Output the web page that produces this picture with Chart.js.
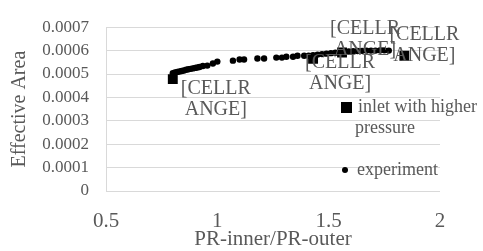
<!DOCTYPE html>
<html>
<head>
<meta charset="utf-8">
<script src="https://cdn.jsdelivr.net/npm/chart.js"></script>
<style>
  body { margin: 0; background: #fff; }
  #wrap { width: 483px; height: 251px; }
</style>
</head>
<body>
<div id="wrap"><canvas id="myChart" width="483" height="251"></canvas></div>
<script>
// values
const inletX = [0.8, 1.43, 1.56, 1.84];
const inletY = [0.000478, 0.000565, 0.000592, 0.000578];

const expX = [0.80, 0.81, 0.82, 0.83, 0.84, 0.85, 0.86, 0.87, 0.88, 0.89, 0.90, 0.91, 0.92, 0.935, 0.955,
  0.98, 1.0, 1.07, 1.10, 1.12, 1.18, 1.21, 1.265, 1.29, 1.31, 1.34, 1.36, 1.39, 1.41, 1.43, 1.45, 1.47,
  1.49, 1.51, 1.53, 1.55, 1.57, 1.59, 1.61, 1.63, 1.65, 1.67, 1.69, 1.71, 1.73, 1.75, 1.77];
const expY = [0.000503, 0.000507, 0.000509, 0.000511, 0.000513, 0.000515, 0.000518, 0.00052, 0.000522, 0.000524,
  0.000526, 0.000528, 0.00053, 0.000534, 0.000536, 0.000545, 0.000553, 0.000557, 0.000562, 0.000562, 0.000566,
  0.000566, 0.00057, 0.00057, 0.000574, 0.000574, 0.000578, 0.000578, 0.000578, 0.00058, 0.000583, 0.000585,
  0.000587, 0.000589, 0.000591, 0.000593, 0.000595, 0.000596, 0.000597, 0.000598, 0.000599, 0.0006, 0.0006,
  0.0006, 0.000601, 0.000601, 0.0006];

const xTickLabels = ['0.5', '1', '1.5', '2'];
const yTickLabels = ['0', '0.0001', '0.0002', '0.0003', '0.0004', '0.0005', '0.0006', '0.0007'];
const seriesNames = ['inlet with higher pressure', 'experiment'];
const cellLabel = ['[CELLR', 'ANGE]'];

const gray = '#595959';
const serif = "'Liberation Serif', 'Times New Roman', serif";

// where each [CELLRANGE] label sits relative to its point (px)
const labelOffsets = [[43, 10], [27, 4], [23, -24], [20, -21]];

function pts(xs, ys) {
    return xs.map(function(x, i) { return {x: x, y: ys[i]}; });
}

// excel style data labels
const cellLabels = {
    id: 'cellLabels',
    afterDatasetsDraw(chart) {
        const ctx = chart.ctx;
        const meta = chart.getDatasetMeta(0);
        ctx.save();
        ctx.font = '20px ' + serif;
        ctx.fillStyle = gray;
        ctx.textAlign = 'center';
        ctx.textBaseline = 'middle';
        meta.data.forEach(function(p, i) {
            const off = labelOffsets[i];
            cellLabel.forEach(function(line, j) {
                ctx.fillText(line, p.x + off[0], p.y + off[1] + j * 21);
            });
        });
        ctx.restore();
    }
};

// legend sits on top of the plot, like the original
const overLegend = {
    id: 'overLegend',
    afterDraw(chart) {
        const ctx = chart.ctx;
        ctx.save();
        ctx.font = '18px ' + serif;
        ctx.fillStyle = gray;
        ctx.textBaseline = 'middle';
        // wrap first name
        const words = seriesNames[0].split(' ');
        let lines = [], cur = '';
        words.forEach(function(w) {
            const t = cur ? cur + ' ' + w : w;
            if (ctx.measureText(t).width > 126 && cur) { lines.push(cur); cur = w; }
            else cur = t;
        });
        lines.push(cur);
        ctx.fillText(lines[0], 358, 107);
        for (let i = 1; i < lines.length; i++) ctx.fillText(lines[i], 355, 107 + i * 21);
        ctx.fillText(seriesNames[1], 357, 170);
        ctx.fillStyle = '#000';
        ctx.fillRect(341, 102, 11, 11);
        ctx.beginPath();
        ctx.arc(345, 170, 3, 0, Math.PI * 2);
        ctx.fill();
        ctx.restore();
    }
};

const data = {
    datasets: [{
        label: seriesNames[0],
        data: pts(inletX, inletY),
        pointStyle: 'rect',
        pointRadius: 7,
        backgroundColor: '#000',
        borderWidth: 0,
        showLine: false
    }, {
        label: seriesNames[1],
        data: pts(expX, expY),
        pointStyle: 'circle',
        pointRadius: 3.2,
        backgroundColor: '#000',
        borderWidth: 0,
        showLine: false
    }]
};

const config = {
    type: 'scatter',
    data: data,
    options: {
        responsive: false,
        animation: false,
        layout: { padding: { top: 24, right: 43, left: 0, bottom: 0 } },
        plugins: {
            legend: { display: false },
            tooltip: { enabled: false }
        },
        scales: {
            x: {
                type: 'linear',
                min: 0.5,
                max: 2,
                afterFit: function(s) { s.height = 60; },
                grid: { display: false, drawTicks: false },
                border: { display: false },
                ticks: {
                    stepSize: 0.5,
                    padding: 18,
                    color: gray,
                    font: { family: serif, size: 21 },
                    callback: function(v, i) { return xTickLabels[i]; }
                },
                title: {
                    display: true,
                    text: 'PR-inner/PR-outer',
                    color: gray,
                    font: { family: serif, size: 21, lineHeight: 1 },
                    padding: { top: 0, bottom: 1 }
                }
            },
            y: {
                min: 0,
                max: 0.0007,
                afterFit: function(s) { s.width = 106; },
                grid: { color: '#d9d9d9', drawTicks: false },
                border: { display: true, color: '#d9d9d9' },
                ticks: {
                    stepSize: 0.0001,
                    padding: 17,
                    color: gray,
                    font: { family: serif, size: 17 },
                    callback: function(v, i) { return yTickLabels[i]; }
                },
                title: {
                    display: true,
                    text: 'Effective Area',
                    color: gray,
                    font: { family: serif, size: 20 },
                    padding: { top: 8, bottom: 0 }
                }
            }
        }
    },
    plugins: [cellLabels, overLegend]
};

myChart = new Chart(document.getElementById('myChart'), config);
</script>
</body>
</html>
